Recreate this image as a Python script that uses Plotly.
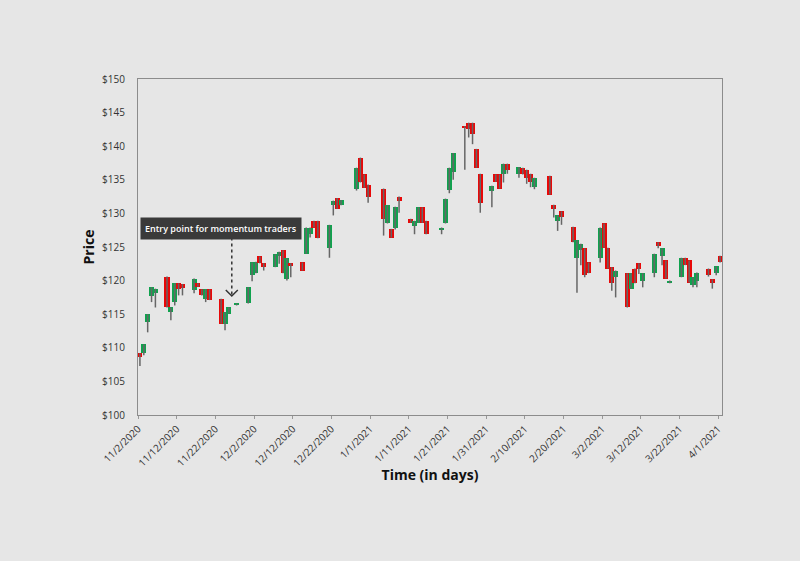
import plotly.graph_objects as go
import pandas as pd

dates = ["2020-11-02","2020-11-03","2020-11-04","2020-11-05","2020-11-06",
         "2020-11-09","2020-11-10","2020-11-11","2020-11-12","2020-11-13",
         "2020-11-16","2020-11-17","2020-11-18","2020-11-19","2020-11-20",
         "2020-11-23","2020-11-24","2020-11-25","2020-11-27",
         "2020-11-30","2020-12-01","2020-12-02","2020-12-03","2020-12-04",
         "2020-12-07","2020-12-08","2020-12-09","2020-12-10","2020-12-11",
         "2020-12-14","2020-12-15","2020-12-16","2020-12-17","2020-12-18",
         "2020-12-21","2020-12-22","2020-12-23","2020-12-24",
         "2020-12-28","2020-12-29","2020-12-30","2020-12-31",
         "2021-01-04","2021-01-05","2021-01-06","2021-01-07","2021-01-08",
         "2021-01-11","2021-01-12","2021-01-13","2021-01-14","2021-01-15",
         "2021-01-19","2021-01-20","2021-01-21","2021-01-22",
         "2021-01-25","2021-01-26","2021-01-27","2021-01-28","2021-01-29",
         "2021-02-01","2021-02-02","2021-02-03","2021-02-04","2021-02-05",
         "2021-02-08","2021-02-09","2021-02-10","2021-02-11","2021-02-12",
         "2021-02-16","2021-02-17","2021-02-18","2021-02-19",
         "2021-02-22","2021-02-23","2021-02-24","2021-02-25","2021-02-26",
         "2021-03-01","2021-03-02","2021-03-03","2021-03-04","2021-03-05",
         "2021-03-08","2021-03-09","2021-03-10","2021-03-11","2021-03-12",
         "2021-03-15","2021-03-16","2021-03-17","2021-03-18","2021-03-19",
         "2021-03-22","2021-03-23","2021-03-24","2021-03-25","2021-03-26",
         "2021-03-29","2021-03-30","2021-03-31","2021-04-01"]

open_ = [109.2,109.3,113.8,117.7,118.1,
         120.6,115.3,116.8,119.6,119.5,
         118.6,119.6,118.7,117.3,118.7,
         117.3,113.6,115.1,116.3,
         116.6,120.8,121.1,123.6,122.6,
         122.0,123.7,124.5,120.3,122.6,
         122.7,124.0,127.0,128.9,128.9,
         124.8,131.3,132.3,131.2,
         133.7,138.3,135.8,134.3,
         133.7,128.5,127.7,127.9,132.5,
         129.2,128.2,128.6,130.9,128.9,
         127.6,128.5,133.5,136.1,
         143.0,143.5,143.5,139.6,135.9,
         133.4,135.8,135.8,135.9,137.4,
         135.9,136.8,136.5,135.9,134.0,
         135.6,131.3,128.9,130.3,
         128.0,123.4,124.6,124.8,122.7,
         123.4,128.5,124.9,122.0,120.6,
         121.1,118.8,121.8,122.6,120.0,
         121.1,125.7,123.7,123.0,119.6,
         120.5,123.4,123.0,119.3,120.0,
         121.8,120.2,121.2,123.7]

close = [108.6,110.5,115.0,119.0,118.8,
         116.0,116.0,119.6,118.8,118.9,
         120.3,119.1,117.8,118.7,117.1,
         113.6,115.3,116.0,116.6,
         119.0,122.7,122.8,122.6,122.0,
         123.9,124.3,121.1,123.3,122.1,
         121.5,127.9,127.9,127.9,126.3,
         128.3,131.9,130.7,132.0,
         136.8,134.6,133.8,132.5,
         129.1,131.2,126.4,131.0,131.8,
         128.6,128.9,130.9,128.6,126.9,
         127.9,132.2,136.8,139.0,
         142.7,142.6,141.8,136.8,131.6,
         134.1,134.7,133.7,137.4,136.5,
         136.9,135.8,135.2,134.7,135.3,
         132.8,130.6,129.7,129.5,
         125.7,126.0,125.5,120.8,121.1,
         127.9,124.9,121.8,119.7,121.5,
         116.0,121.1,119.6,121.7,121.1,
         124.0,125.2,124.8,120.3,120.0,
         123.4,122.3,119.7,120.5,121.2,
         120.9,119.6,122.1,122.7]

low = [107.3,108.9,112.3,116.8,116.0,
       116.0,114.1,116.3,117.8,117.8,
       118.1,119.1,117.8,116.8,117.1,
       113.6,112.6,115.1,116.3,
       116.6,119.9,121.1,122.6,121.5,
       122.0,122.5,121.1,120.0,120.5,
       121.5,124.0,126.4,127.9,126.3,
       123.4,129.7,130.7,131.2,
       133.4,134.6,133.8,131.6,
       126.7,128.5,126.4,127.6,130.1,
       128.6,126.9,128.6,128.6,126.9,
       126.9,128.5,133.0,135.0,
       136.5,141.3,140.3,136.8,130.1,
       130.9,134.7,133.7,134.6,135.9,
       135.3,135.8,134.4,133.9,133.6,
       132.8,129.4,127.4,128.3,
       125.7,118.2,122.3,120.5,121.1,
       122.7,124.9,121.8,118.5,117.5,
       116.0,118.8,119.6,121.0,119.0,
       120.5,124.8,122.3,120.3,119.6,
       120.5,122.3,119.7,119.0,119.0,
       120.6,118.8,120.8,122.7]

high = [max(o, c) for o, c in zip(open_, close)]

tick_dates = ["2020-11-02","2020-11-12","2020-11-22","2020-12-02","2020-12-12",
              "2020-12-22","2021-01-01","2021-01-11","2021-01-21","2021-01-31",
              "2021-02-10","2021-02-20","2021-03-02","2021-03-12","2021-03-22","2021-04-01"]
tick_text = ["11/2/2020","11/12/2020","11/22/2020","12/2/2020","12/12/2020",
             "12/22/2020","1/1/2021","1/11/2021","1/21/2021","1/31/2021",
             "2/10/2021","2/20/2021","3/2/2021","3/12/2021","3/22/2021","4/1/2021"]

price_ticks = [100,105,110,115,120,125,130,135,140,145,150]

GREEN = "#10a24e"
RED = "#e80808"
WICK = "#666666"

xs = pd.to_datetime(dates) + pd.Timedelta(hours=12)

wx, wy = [], []
for x, lo, hi in zip(xs, low, high):
    wx += [x, x, None]
    wy += [lo, hi, None]

fig = go.Figure()
fig.add_trace(go.Scatter(x=wx, y=wy, mode="lines",
                         line=dict(color=WICK, width=1.5),
                         hoverinfo="skip", showlegend=False))
fig.add_trace(go.Bar(x=xs,
                     base=[min(o, c) for o, c in zip(open_, close)],
                     y=[max(abs(c - o), 0.3) for o, c in zip(open_, close)],
                     width=1.3 * 86400000,
                     marker=dict(color=[GREEN if c >= o else RED for o, c in zip(open_, close)],
                                 line=dict(width=0)),
                     showlegend=False))

arrow_x = "2020-11-26 06:00"
fig.add_shape(type="line", x0=arrow_x, x1=arrow_x, y0=126.4, y1=117.9,
              line=dict(color="#333333", width=1.5, dash="dot"))
fig.add_shape(type="path", xsizemode="pixel", ysizemode="pixel",
              xanchor=arrow_x, yanchor=117.7, path="M-6,6 L0,0 L6,6",
              line=dict(color="#333333", width=1.5))
fig.add_annotation(x="2020-11-23 14:00", y=127.7, text="Entry point for momentum traders",
                   showarrow=False, bgcolor="#3a3a3a", borderpad=4,
                   font=dict(family="Open Sans", size=9, color="white", weight=600))

BG = "#e6e6e6"
fig.update_layout(
    width=800, height=561,
    margin=dict(l=138, r=78, t=79, b=146),
    paper_bgcolor=BG, plot_bgcolor=BG,
    font=dict(family="Open Sans", color="#333333"),
    bargap=0,
    xaxis=dict(type="date", range=["2020-11-02", "2021-04-02"],
               tickvals=tick_dates, ticktext=tick_text, tickangle=-45,
               ticks="outside", ticklen=3, tickcolor="#999999",
               tickfont=dict(size=10, color="#333333"),
               showline=True, mirror=True, linecolor="#8c8c8c", linewidth=1.2,
               showgrid=False, zeroline=False,
               title=dict(text="<b>Time (in days)</b>", font=dict(size=14, color="#111111"), standoff=0)),
    yaxis=dict(range=[100, 150], tickvals=price_ticks,
               ticktext=[f"${v}" for v in price_ticks],
               ticks="", ticklabelstandoff=10,
               tickfont=dict(size=10, color="#333333"),
               showline=True, mirror=True, linecolor="#8c8c8c", linewidth=1.2,
               showgrid=False, zeroline=False,
               title=dict(text="<b>Price</b>", font=dict(size=14, color="#111111"), standoff=4)),
)

fig.write_html("out.html")
